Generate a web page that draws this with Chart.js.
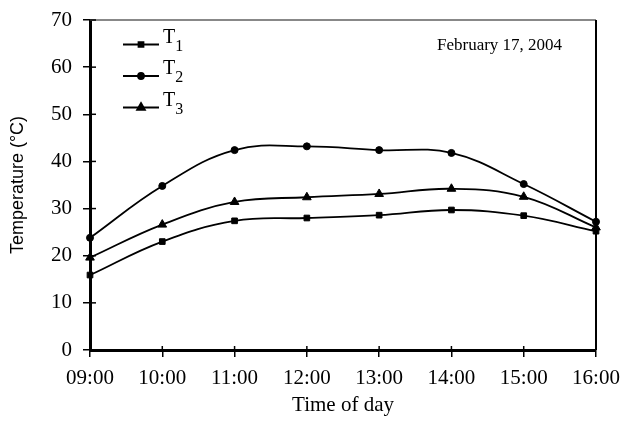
<!DOCTYPE html>
<html><head><meta charset="utf-8">
<script src="https://cdn.jsdelivr.net/npm/chart.js@4/dist/chart.umd.min.js"></script>
<style>html,body{margin:0;padding:0;background:#fff}#wrap{width:620px;height:435px}</style>
</head><body><div id="wrap"><canvas id="c" width="620" height="435"></canvas></div>
<script>
const categories = ["09:00","10:00","11:00","12:00","13:00","14:00","15:00","16:00"];
const seriesNames = ["T1","T2","T3"];
const t1 = [15.9, 23.0, 27.4, 28.0, 28.6, 29.7, 28.5, 25.2];
const t2 = [23.8, 34.8, 42.4, 43.2, 42.4, 41.8, 35.2, 27.2];
const t3 = [19.6, 26.6, 31.4, 32.4, 33.1, 34.2, 32.5, 26.0];
const yTicks = [0,10,20,30,40,50,60,70];
const dateNote = "February 17, 2004";
const pointStyles = ["rect","circle","triangle"];
const pointRadii = [4, 3.5, 5];

const serif = "'Liberation Serif', 'Times New Roman', serif";

const frame = {
  id: 'frame',
  afterDatasetsDraw(chart) {
    const {ctx, chartArea: a} = chart;
    ctx.save();
    ctx.lineCap = 'butt';
    ctx.strokeStyle = '#888'; ctx.lineWidth = 2;
    ctx.beginPath(); ctx.moveTo(a.left, a.top); ctx.lineTo(a.right, a.top); ctx.stroke();
    ctx.strokeStyle = '#000'; ctx.lineWidth = 2;
    ctx.beginPath(); ctx.moveTo(a.right, a.top); ctx.lineTo(a.right, a.bottom); ctx.stroke();
    const ys = chart.scales.y;
    ctx.lineWidth = 1.5;
    yTicks.forEach(v => {
      const py = ys.getPixelForValue(v);
      ctx.beginPath(); ctx.moveTo(a.left, py); ctx.lineTo(a.left + 6, py); ctx.stroke();
    });
    const xs = chart.scales.x;
    categories.forEach((c, i) => {
      const px = xs.getPixelForValue(i);
      ctx.beginPath(); ctx.moveTo(px, a.bottom); ctx.lineTo(px, a.bottom - 4); ctx.stroke();
    });
    const ds = chart.data.datasets;
    ds.forEach((d, i) => {
      const y = 44.5 + i * 31.5;
      ctx.strokeStyle = '#000'; ctx.lineWidth = 1.8;
      ctx.beginPath(); ctx.moveTo(123, y); ctx.lineTo(159, y); ctx.stroke();
      Chart.helpers.drawPoint(ctx, {pointStyle: d.pointStyle, radius: d.pointRadius - 0.5, borderWidth: 1}, 141, y);
      ctx.fillStyle = '#000';
      ctx.textBaseline = 'alphabetic'; ctx.textAlign = 'left';
      ctx.font = "20px " + serif;
      const main = d.label.charAt(0);
      ctx.fillText(main, 163, y - 2);
      const w = ctx.measureText(main).width;
      ctx.font = "16px " + serif;
      ctx.fillText(d.label.slice(1), 163 + w, y + 6);
    });
    ctx.font = "17px " + serif;
    ctx.fillStyle = '#000';
    ctx.textAlign = 'left';
    ctx.fillText(dateNote, 437, 50);
    ctx.restore();
  }
};

const datasets = [t1, t2, t3].map((vals, i) => ({
  label: seriesNames[i],
  data: vals,
  borderColor: '#000',
  backgroundColor: '#000',
  borderWidth: 1.8,
  pointStyle: pointStyles[i],
  pointRadius: pointRadii[i],
  pointBorderWidth: 1,
  tension: 0.4,
  clip: false
}));

new Chart(document.getElementById('c'), {
  type: 'line',
  data: { labels: categories, datasets },
  options: {
    responsive: false,
    animation: false,
    devicePixelRatio: 1,
    layout: { padding: { top: 20, right: 24, left: 0, bottom: 0 } },
    plugins: { legend: { display: false }, tooltip: { enabled: false } },
    scales: {
      x: {
        offset: false,
        grid: { display: true, drawOnChartArea: false, drawTicks: true, tickLength: 7, color: '#000', lineWidth: 1.5 },
        border: { display: true, color: '#000', width: 3 },
        ticks: { color: '#000', font: { family: serif, size: 21 }, padding: 9, maxRotation: 0, autoSkip: false },
        title: { display: true, text: 'Time of day', color: '#000', font: { family: serif, size: 21 }, padding: { top: 0, bottom: 17 } },
        afterFit(s) { s.height = 85; s.paddingLeft = 0; s.paddingRight = 0; }
      },
      y: {
        min: 0, max: 70,
        afterBuildTicks(s) { s.ticks = yTicks.map(v => ({ value: v })); },
        grid: { display: true, drawOnChartArea: false, drawTicks: true, tickLength: 7, color: '#000', lineWidth: 1.5 },
        border: { display: true, color: '#000', width: 3 },
        ticks: { color: '#000', font: { family: serif, size: 21 }, padding: 11 },
        title: { display: true, text: 'Temperature (°C)', color: '#000', font: { family: "'Liberation Sans', Arial, sans-serif", size: 18 }, padding: { top: 7, bottom: 0 } },
        afterFit(s) { s.width = 90; s.paddingTop = 0; s.paddingBottom = 0; }
      }
    }
  },
  plugins: [frame]
});
</script>
</body></html>
